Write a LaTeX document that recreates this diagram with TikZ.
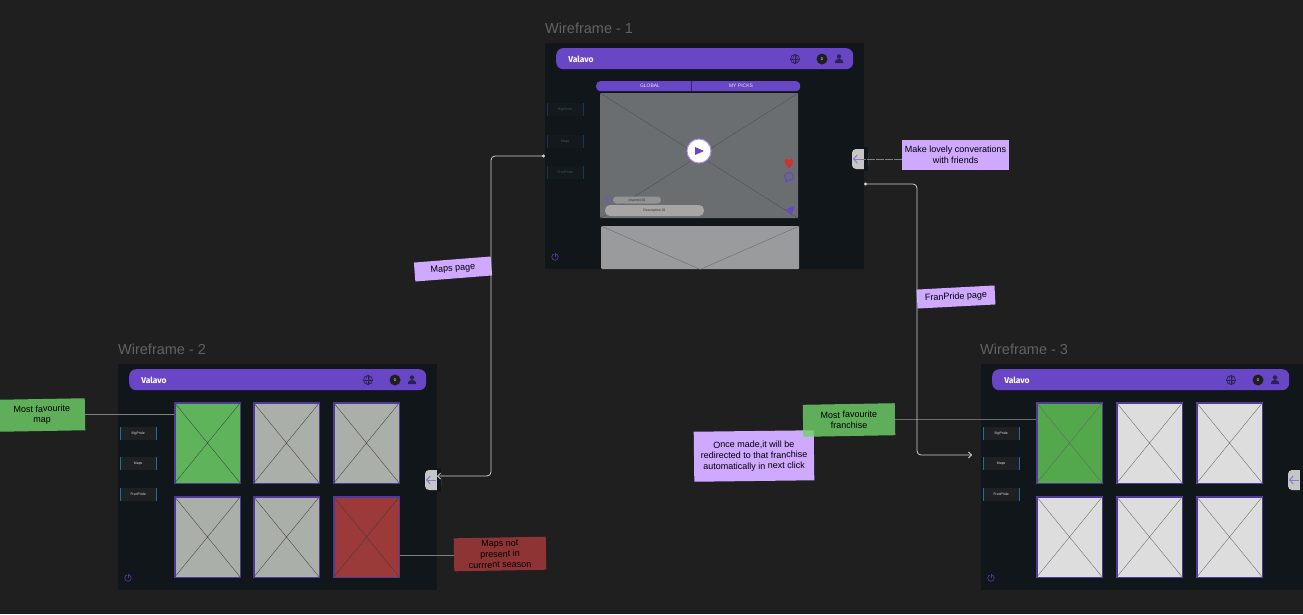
\documentclass[tikz,border=0pt]{standalone}
\usepackage{fontspec}
\setmainfont{Liberation Sans}
\newfontfamily\logofont{Fira Sans}
\usetikzlibrary{arrows.meta}
\definecolor{canvas}{HTML}{1F1F1F}
\definecolor{framebg}{HTML}{10161A}
\definecolor{barpurple}{HTML}{6846C6}
\definecolor{barink}{HTML}{2A2350}
\definecolor{cellborder}{HTML}{4F3A9A}
\definecolor{lilac}{HTML}{CFA8FF}
\definecolor{stickygreen}{HTML}{6FD469}
\definecolor{stickyred}{HTML}{8F3434}
\definecolor{btnblue}{HTML}{1273A8}
\definecolor{btndim}{HTML}{0E3A52}
\definecolor{btnfill}{HTML}{1E2022}
\definecolor{btnfilldim}{HTML}{131A1E}
\definecolor{mapgrey}{HTML}{ABAFAA}
\definecolor{mapgreen}{HTML}{5FB35A}
\definecolor{mapred}{HTML}{9B3A38}
\definecolor{frangreen}{HTML}{52A84A}
\definecolor{frangrey}{HTML}{DDDDDD}
\definecolor{videogrey}{HTML}{6A6E70}
\definecolor{bannergrey}{HTML}{9A9B9D}
\tikzset{
	frame/.style={fill=framebg,anchor=north west,inner sep=0pt,minimum height=226pt},
	title/.style={anchor=west,text=gray!70!canvas,font=\fontsize{14.5}{14.5}\selectfont,inner sep=0pt},
	topbar/.style={fill=barpurple,rounded corners=7pt,anchor=north west,inner sep=0pt,minimum width=297pt,minimum height=21pt},
	logo/.style={text=white,font=\logofont\fontsize{8.5}{8.5}\selectfont\bfseries,inner sep=0pt},
	sidebtn/.style={fill=#1,anchor=west,inner sep=0pt,minimum width=36pt,minimum height=13pt,font=\fontsize{3.5}{4}\selectfont},
	cell/.style={draw=cellborder,line width=1.5pt,fill=#1,anchor=north west,inner sep=0pt,minimum width=65.5pt,minimum height=80.5pt},
	sticky/.style={fill=#1,align=center,text=black,inner sep=0pt,font=\fontsize{9}{10.8}\selectfont},
	link/.style={draw=#1,line width=.6pt},
	flow/.style={draw=white!82!black,line width=.8pt,rounded corners=4pt},
	backtab/.style={fill=#1,rounded corners=4pt,inner sep=0pt,minimum width=16pt,minimum height=20pt},
	cross/.style={draw=#1,line width=.35pt},
}
% frame with header bar, side buttons, power icon and back tab
\newcommand{\wireframe}[8]{
	\begin{scope}[shift={(#2,#3)},name prefix=#1-]
		\node[frame,minimum width=#4] (frame) at (0,0) {};
		\node[topbar] (bar) at (11,5) {};
		\node[logo] (logo) at (36,16) {Valavo};
		\node[circle,draw=barink,line width=.7pt,minimum size=9pt,inner sep=0pt] (globe) at (250,16) {};
		\draw[barink,line width=.5pt] (globe.north) -- (globe.south) (globe.west) -- (globe.east);
		\draw[barink,line width=.5pt] (globe.center) ellipse (2.2pt and 4.5pt);
		\node[circle,fill=canvas,minimum size=11pt,inner sep=0pt,text=white,font=\fontsize{4}{4}\selectfont] (badge) at (277,16) {0};
		\node[circle,fill=barink,minimum size=4.5pt,inner sep=0pt] (head) at (294,13.5) {};
		\fill[barink] (290,20) -- (290,18.5) arc (180:0:4pt and 2.5pt) -- (298,20) -- cycle;
		\foreach \yy/\lab/\nm in {#5} {
			\node[sidebtn=#6,text=#7] (\nm) at (2,\yy) {\lab};
			\draw[#8,line width=.7pt] (\nm.north west) -- (\nm.south west);
			\draw[#8,line width=.7pt] (\nm.north east) -- (\nm.south east);
		}
		\node[circle,draw=barpurple!80!black,line width=.7pt,minimum size=6.5pt,inner sep=0pt] (power) at (10,214) {};
		\draw[framebg,line width=1.6pt] (10,210) -- (10,213);
		\draw[barpurple!80!black,line width=.7pt] (10,209.5) -- (10,214);
		\node[backtab=gray!45!white] (tab) at (315,116) {};
		\fill[framebg] (319,104) rectangle (323,128);
		\draw[barpurple!75!white,line width=1pt,-{Straight Barb[length=3.5pt,width=8pt]}] (318,116) -- (308,116);
	\end{scope}
}
\begin{document}
\begin{tikzpicture}[x=1pt,y=-1pt]
	\fill[canvas] (0,0) rectangle (1303,614);
	\useasboundingbox (0,0) rectangle (1303,614);

	\node[title] (t1) at (545,28) {Wireframe - 1};
	\node[title] (t2) at (118,349) {Wireframe - 2};
	\node[title] (t3) at (980,349) {Wireframe - 3};

	\wireframe{w1}{545}{43}{319pt}{66.5/BigShots/big,98.5/Maps/maps,129.5/FranPride/fran}{btnfilldim}{gray!55!framebg}{btndim}
	\wireframe{w2}{118}{364}{319pt}{69.5/BigPride/big,99.5/Maps/maps,130.5/FranPride/fran}{btnfill}{white!85!black}{btnblue}
	\wireframe{w3}{981}{364}{330pt}{69.5/BigPride/big,99.5/Maps/maps,130.5/FranPride/fran}{btnfill}{white!85!black}{btnblue}

	% wireframe 1
	\node[fill=barpurple,rounded corners=4pt,anchor=north west,inner sep=0pt,minimum width=204pt,minimum height=10pt] (tabs) at (596,81) {};
	\draw[cellborder!70!black,line width=.5pt] (tabs.north) ++(-7,0) -- ++(0,10);
	\node[text=white!85!barpurple,font=\fontsize{5}{5}\selectfont,inner sep=0pt] (global) at (650,86) {GLOBAL};
	\node[text=white!85!barpurple,font=\fontsize{5}{5}\selectfont,inner sep=0pt] (picks) at (741,86) {MY PICKS};
	\node[fill=videogrey,rounded corners=1pt,anchor=north west,inner sep=0pt,minimum width=198pt,minimum height=125pt] (video) at (600,93) {};
	\draw[cross=gray!55!framebg] (video.north west) -- (video.south east) (video.north east) -- (video.south west);
	\node[fill=bannergrey,rounded corners=1pt,anchor=north west,inner sep=0pt,minimum width=198pt,minimum height=43pt] (banner) at (601,226) {};
	\draw[cross=gray!80!black] (banner.north west) -- (banner.south) -- (banner.north east);
	\node[circle,fill=white,draw=lilac!70!barpurple,line width=1pt,minimum size=24pt,inner sep=0pt] (play) at (699,151) {};
	\fill[barpurple] (695,147) -- (704,151) -- (695,155) -- cycle;
	\node[fill=gray!85!white,rounded corners=3.5pt,inner sep=0pt,minimum width=48pt,minimum height=7pt,font=\fontsize{3.5}{4}\selectfont,text=gray!40!black] (channel) at (637,200) {channel-01};
	\node[fill=gray!70!white,rounded corners=5pt,inner sep=0pt,minimum width=99pt,minimum height=11pt,font=\fontsize{3.5}{4}\selectfont,text=gray!40!black] (descr) at (654.5,210.5) {Description 01};
	\draw[barpurple!65!gray,line width=1.1pt] (605,197) -- (611,204) (611,197) -- (605,204);
	\fill[red!60!gray] (789,168) .. controls (783,163) and (784,159) .. (787,159) .. controls (788,159) and (789,160) .. (789,161) .. controls (789,160) and (790,159) .. (791,159) .. controls (794,159) and (795,163) .. (789,168) -- cycle;
	\draw[barpurple,line width=1pt] (789,176.5) ellipse (4.5pt and 4pt);
	\fill[barpurple] (785,182) -- (785.5,178) -- (788,181) -- cycle;
	\fill[barpurple] (795,206) -- (784,210) -- (789,211.5) -- (791,216) -- cycle;

	% wireframe 2
	\node[cell=mapgreen] (m1) at (174,402) {};
	\node[cell=mapgrey] (m2) at (253,402) {};
	\node[cell=mapgrey] (m3) at (333,402) {};
	\node[cell=mapgrey] (m4) at (174,496) {};
	\node[cell=mapgrey] (m5) at (253,496) {};
	\node[cell=mapred] (m6) at (333,496) {};
	\foreach \nm in {m1,m2,m3,m4,m5,m6} {
		\draw[cross=gray!50!black] (\nm.north west) -- (\nm.south east) (\nm.north east) -- (\nm.south west);
	}

	% wireframe 3
	\node[cell=frangreen] (f1) at (1036,402) {};
	\node[cell=frangrey] (f2) at (1116,402) {};
	\node[cell=frangrey] (f3) at (1196,402) {};
	\node[cell=frangrey] (f4) at (1036,496) {};
	\node[cell=frangrey] (f5) at (1116,496) {};
	\node[cell=frangrey] (f6) at (1196,496) {};
	\foreach \nm in {f1,f2,f3,f4,f5,f6} {
		\draw[cross=gray!80!black] (\nm.north west) -- (\nm.south east) (\nm.north east) -- (\nm.south west);
	}

	% notes
	\node[sticky=lilac,minimum width=77pt,minimum height=19pt,rotate=4.5] (mapsnote) at (453,269) {Maps page};
	\node[sticky=lilac,minimum width=78pt,minimum height=19pt,rotate=3] (frannote) at (956,297) {FranPride page};
	\node[sticky=lilac,minimum width=107pt,minimum height=30pt] (chatnote) at (955.5,155) {Make lovely converations\\with friends};
	\node[sticky=lilac,minimum width=120pt,minimum height=50pt,rotate=.7] (oncenote) at (754,456) {Once made,it will be\\redirected to that franchise\\automatically in next click};
	\node[sticky=stickygreen,fill opacity=.8,text opacity=1,minimum width=92pt,minimum height=32pt,rotate=1] (favfran) at (849,420) {Most favourite\\franchise};
	\node[sticky=stickygreen,fill opacity=.8,text opacity=1,minimum width=86pt,minimum height=32pt,rotate=1] (favmap) at (42,415) {Most favourite\\map};
	\node[sticky=stickyred,minimum width=92pt,minimum height=33pt,rotate=1] (oldmap) at (500,554) {Maps not\\present in\\currrent season};

	% links
	\draw[link=gray] (favmap.east) -- (m1.west |- favmap.east);
	\draw[link=gray!80!canvas] (favfran.east) -- (f1.west |- favfran.east);
	\draw[link=gray] (m6.east |- oldmap.west) -- (oldmap.west);
	\draw[link=gray,dash pattern=on 8pt off 1pt] (chatnote.west |- w1-tab.center) -- (w1-tab.center);

	\coordinate (mapsout) at (545,156);
	\coordinate (mapsturn) at (491,476);
	\coordinate (mapsin) at (437,476);
	\coordinate (franout) at (864,184);
	\coordinate (franturn) at (917,455);
	\coordinate (franin) at (972,455);
	\draw[flow,{Circle[length=3pt]}-{Straight Barb[length=3pt,width=6pt]}] (mapsout) -| (mapsturn) -- (mapsin);
	\draw[flow,{Circle[length=3pt]}-{Straight Barb[length=3pt,width=6pt]}] (franout) -| (franturn) -- (franin);
\end{tikzpicture}
\end{document}
